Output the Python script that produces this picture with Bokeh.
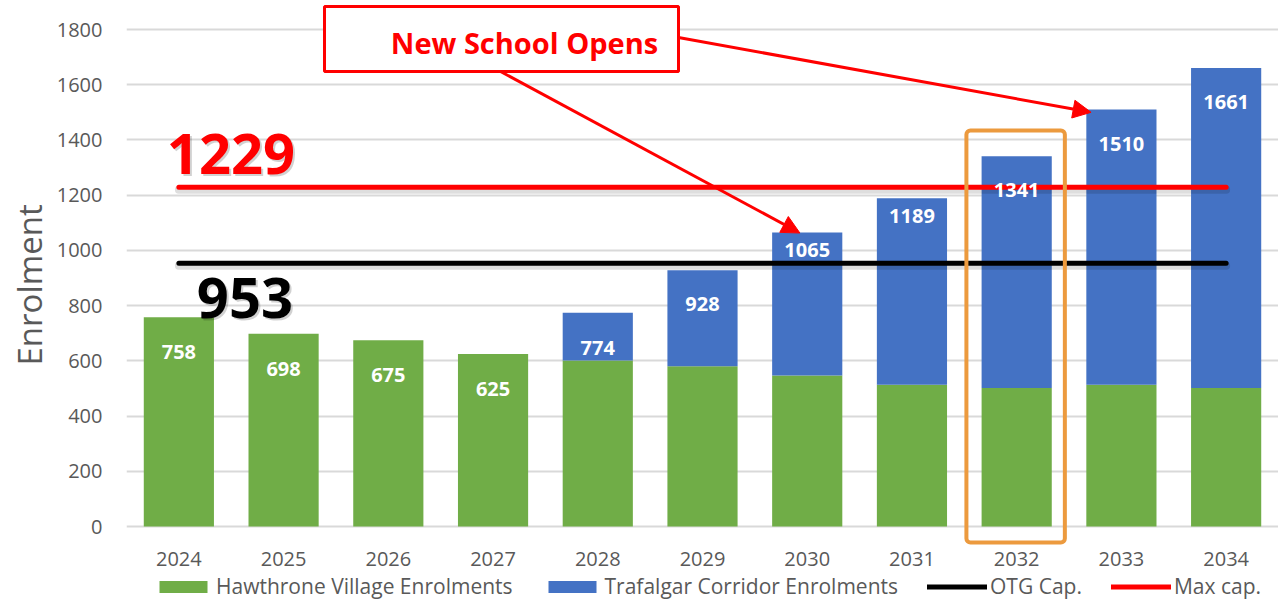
import numpy as np
from bokeh.plotting import figure
from bokeh.models import (Range1d, FixedTicker, ColumnDataSource, Legend, LegendItem,
                          BoxAnnotation, Arrow, NormalHead, Label, Title)
from bokeh.core.properties import value
from bokeh.embed import file_html
from bokeh.resources import INLINE

# ---------------- data ----------------
years = ["2024", "2025", "2026", "2027", "2028", "2029", "2030", "2031", "2032", "2033", "2034"]
hawthrone = [758, 698, 675, 625, 601, 580, 547, 513, 502, 513, 502]
trafalgar = [0, 0, 0, 0, 173, 348, 518, 676, 839, 997, 1159]
otg_cap = [953, 953, 953, 953, 953, 953, 953, 953, 953, 953, 953]
max_cap = [1229, 1229, 1229, 1229, 1229, 1229, 1229, 1229, 1229, 1229, 1229]
y_ticks = [0, 200, 400, 600, 800, 1000, 1200, 1400, 1600, 1800]
series_names = ["Hawthrone Village Enrolments", "Trafalgar Corridor Enrolments", "OTG Cap.", "Max cap."]
y_title = "Enrolment"
callout_text = "New School Opens"
highlight_year = "2032"
callout_targets = ["2030", "2033"]

# ---------------- style / layout ----------------
label_drop_px = [35, 35, 35, 35, 35, 34, 17.5, 17.5, 34, 34, 34]   # value label distance below bar top
FIG_W, FIG_H = 1278, 600
BORDER_LEFT = 126
FRAME_L = BORDER_LEFT                       # px of frame left
PXC = (FIG_W - BORDER_LEFT) / len(years)    # px per category
Y_ZERO, Y_TOP = 526, 29                     # px of 0 and 1800
PXU = (Y_ZERO - Y_TOP) / y_ticks[-1]


def dx(px):
    return (px - FRAME_L) / PXC - 0.5


def dy(py):
    return (Y_ZERO - py) / PXU


n = len(years)
x_idx = list(range(n))
total = [h + t for h, t in zip(hawthrone, trafalgar)]

src = ColumnDataSource(dict(
    x=x_idx, year=years, green=hawthrone, blue=trafalgar, total=total,
    total_lbl=[str(v) for v in total], zero=[0] * n, drop=label_drop_px,
    otg=otg_cap, maxc=max_cap,
    otg_sh=[v - 2.5 / PXU for v in otg_cap], max_sh=[v - 2.5 / PXU for v in max_cap],
))

GREEN = "#70AD47"
BLUE = "#4472C4"
GREY_TXT = "#595959"
FONT = "Open Sans"

p = figure(width=FIG_W, height=FIG_H,
           x_range=Range1d(-0.5, n - 0.5),
           y_range=Range1d(dy(FIG_H), dy(0)),
           x_axis_location=None,
           output_backend="svg", toolbar_location=None,
           min_border_left=BORDER_LEFT, min_border_right=0,
           min_border_top=0, min_border_bottom=0)
p.outline_line_color = None
p.background_fill_color = "white"
p.xgrid.grid_line_color = None

ticker = FixedTicker(ticks=y_ticks)
p.yaxis.ticker = ticker
p.ygrid.ticker = ticker
p.ygrid.grid_line_color = "#D9D9D9"
p.ygrid.grid_line_width = 2
p.yaxis.axis_line_color = None
p.yaxis.major_tick_line_color = None
p.yaxis.minor_tick_line_color = None
p.yaxis.major_tick_out = 0
p.yaxis.major_tick_in = 0
p.yaxis.major_label_standoff = 24
p.yaxis.major_label_text_font = FONT
p.yaxis.major_label_text_font_size = "20px"
p.yaxis.major_label_text_color = GREY_TXT

# y-axis title: starts at the bottom offset, reading upwards
p.add_layout(Title(text=y_title, align="left", offset=FIG_H - 365, standoff=4,
                   text_font=FONT, text_font_size="33px", text_font_style="normal",
                   text_color=GREY_TXT), "left")

BAR_W = 0.67
g_r = p.vbar(x="x", width=BAR_W, bottom=0, top="green", source=src,
             fill_color=GREEN, line_color=None)
b_r = p.vbar(x="x", width=BAR_W, bottom="green", top="total", source=src,
             fill_color=BLUE, line_color=None)

# shadows of the capacity lines
p.line(x="x", y="otg_sh", source=src, line_color="black", line_alpha=0.13, line_width=8, line_cap="round")
p.line(x="x", y="max_sh", source=src, line_color="black", line_alpha=0.13, line_width=8, line_cap="round")
o_r = p.line(x="x", y="otg", source=src, line_color="black", line_width=5, line_cap="round")
m_r = p.line(x="x", y="maxc", source=src, line_color="#FF0000", line_width=5, line_cap="round")

# bar value labels
p.text(x="x", y="total", text="total_lbl", source=src, y_offset="drop",
       text_align="center", text_baseline="middle", text_color="white",
       text_font=value(FONT), text_font_style="bold", text_font_size="20px")

# year labels (category axis)
p.text(x="x", y="zero", text="year", source=src, y_offset=32,
       text_align="center", text_baseline="middle", text_color=GREY_TXT,
       text_font=value(FONT), text_font_size="20px")

# capacity value labels with shadows
cap_src = ColumnDataSource(dict(x=[x_idx[0], x_idx[0]], y=[max_cap[0], otg_cap[0]],
                                t=[str(max_cap[0]), str(otg_cap[0])],
                                c=["#FF0000", "black"],
                                xo=[-12, 18], yo=[-33, 35]))
cap_sh = ColumnDataSource(dict(x=[x_idx[0], x_idx[0]], y=[max_cap[0], otg_cap[0]],
                               t=[str(max_cap[0]), str(otg_cap[0])],
                               xo=[-10, 20], yo=[-31, 37]))
p.text(x="x", y="y", text="t", source=cap_sh, x_offset="xo", y_offset="yo",
       text_color="black", text_alpha=0.18, text_align="left", text_baseline="alphabetic",
       text_font=value(FONT), text_font_style="bold", text_font_size="56px")
p.text(x="x", y="y", text="t", source=cap_src, x_offset="xo", y_offset="yo",
       text_color="c", text_align="left", text_baseline="alphabetic",
       text_font=value(FONT), text_font_style="bold", text_font_size="56px")

# highlight box around 2032
hi = years.index(highlight_year)
p.add_layout(BoxAnnotation(left=hi - 0.48, right=hi + 0.46, top=dy(130), bottom=dy(542),
                           fill_alpha=0, line_color="#EC9A3E", line_alpha=1.0,
                           line_width=4, border_radius=4))

# callout box + arrows
p.add_layout(BoxAnnotation(left=dx(324), right=dx(678), top=dy(6), bottom=dy(71),
                           fill_color="white", fill_alpha=1, line_color="#FF0000",
                           line_alpha=1.0, line_width=3))
p.add_layout(Label(x=dx(524), y=dy(42), text=callout_text, text_align="center",
                   text_baseline="middle", text_color="#FF0000", text_font=FONT,
                   text_font_style="bold", text_font_size="29px"))
t1 = years.index(callout_targets[0])
t2 = years.index(callout_targets[1])
p.add_layout(Arrow(end=NormalHead(size=18, fill_color="#FF0000", line_color="#FF0000"),
                   x_start=dx(500), y_start=dy(71), x_end=t1 - 0.07, y_end=total[t1] - 2,
                   line_color="#FF0000", line_width=3))
p.add_layout(Arrow(end=NormalHead(size=18, fill_color="#FF0000", line_color="#FF0000"),
                   x_start=dx(678), y_start=dy(37), x_end=t2 - 0.29, y_end=total[t2] - 10,
                   line_color="#FF0000", line_width=3))

legend = Legend(items=[LegendItem(label=series_names[0], renderers=[g_r]),
                       LegendItem(label=series_names[1], renderers=[b_r]),
                       LegendItem(label=series_names[2], renderers=[o_r]),
                       LegendItem(label=series_names[3], renderers=[m_r])],
                orientation="horizontal", location=(27, 0),
                glyph_width=60, glyph_height=15, label_standoff=3, spacing=29,
                padding=0, margin=0, border_line_color=None, background_fill_alpha=0,
                label_text_font=FONT, label_text_font_size="21px",
                label_text_color=GREY_TXT, label_height=20)
p.add_layout(legend)

open("out.html", "w").write(file_html(p, INLINE))
